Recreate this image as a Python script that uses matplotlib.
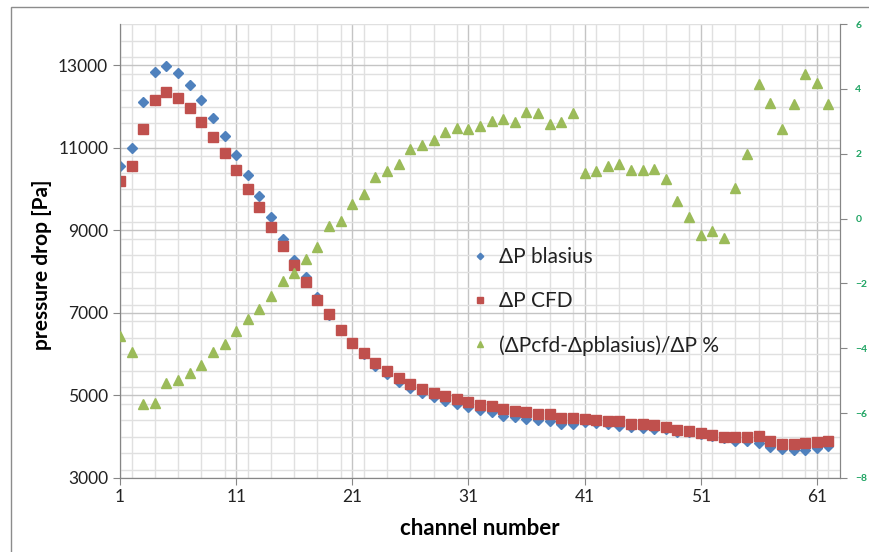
import numpy as np
import matplotlib
matplotlib.use('Agg')
import matplotlib.pyplot as plt
from matplotlib.patches import Rectangle
from matplotlib.ticker import MultipleLocator

plt.rcParams['font.family'] = ['Lato', 'DejaVu Sans']

channel = list(range(1, 63))

# pressure drop, Blasius correlation [Pa]
dp_blasius = [10555, 10985, 12109, 12846, 12975, 12813, 12514, 12157, 11730, 11284,
              10822, 10330, 9827, 9327, 8800, 8291, 7861, 7376, 6960, 6580,
              6260, 6010, 5718, 5524, 5337, 5177, 5070, 4958, 4869, 4796,
              4731, 4650, 4602, 4512, 4488, 4424, 4408, 4383, 4310, 4305,
              4350, 4340, 4300, 4270, 4245, 4214, 4197, 4185, 4124, 4115,
              4070, 4020, 3975, 3905, 3898, 3842, 3745, 3704, 3680, 3680,
              3720, 3777]

# pressure drop, CFD [Pa]
dp_cfd = [10191, 10555, 11453, 12157, 12352, 12215, 11956, 11624, 11269, 10864,
          10451, 10007, 9565, 9085, 8623, 8162, 7750, 7303, 6973, 6592,
          6275, 6026, 5784, 5597, 5434, 5281, 5167, 5056, 4983, 4917,
          4845, 4775, 4747, 4666, 4626, 4609, 4553, 4545, 4449, 4460,
          4425, 4408, 4383, 4376, 4318, 4303, 4278, 4245, 4158, 4141,
          4084, 4036, 3988, 3988, 3995, 4012, 3891, 3818, 3825, 3850,
          3874, 3905]

# relative difference [%]
diff_pct = [-3.61, -4.12, -5.72, -5.70, -5.07, -4.98, -4.77, -4.53, -4.12, -3.87,
            -3.47, -3.11, -2.78, -2.40, -1.92, -1.67, -1.26, -0.87, -0.24, -0.07,
            0.45, 0.77, 1.28, 1.47, 1.68, 2.14, 2.27, 2.42, 2.66, 2.80,
            2.75, 2.86, 3.02, 3.06, 2.97, 3.30, 3.26, 2.91, 2.99, 3.26,
            1.39, 1.46, 1.63, 1.67, 1.51, 1.50, 1.52, 1.22, 0.53, 0.05,
            -0.52, -0.38, -0.59, 0.95, 1.98, 4.15, 3.55, 2.75, 3.52, 4.46,
            4.17, 3.52]

labels = ['\u0394P blasius', '\u0394P CFD', '(\u0394Pcfd-\u0394pblasius)/\u0394P %']

blue = '#4F81BD'
red = '#C0504D'
green = '#9BBB59'
axis_grey = '#868686'

fig = plt.figure(figsize=(8.69, 5.52), dpi=100)
ax1 = fig.add_axes([120/869, 1-478/552, 720/869, 454/552])
ax2 = ax1.twinx()

# grid
ax1.set_xlim(1, 63)
ax1.set_ylim(3000, 14000)
ax1.xaxis.set_major_locator(MultipleLocator(10))
ax1.xaxis.set_minor_locator(MultipleLocator(2))
ax1.yaxis.set_major_locator(MultipleLocator(2000))
ax1.yaxis.set_minor_locator(MultipleLocator(400))
ax1.set_xticks(list(range(1, 62, 10)))
ax1.set_yticks(list(range(3000, 14000, 2000)))
ax1.grid(which='major', color='#c4c4c4', lw=1.0)
ax1.grid(which='minor', color='#e0e0e0', lw=1.0)
ax1.set_axisbelow(True)

h1, = ax1.plot(channel, dp_blasius, ls='none', marker='D', ms=5.5, color=blue, mec=blue, label=labels[0], zorder=3)
h2, = ax1.plot(channel, dp_cfd, ls='none', marker='s', ms=6.5, color=red, mec=red, label=labels[1], zorder=3)
h3, = ax2.plot(channel, diff_pct, ls='none', marker='^', ms=7, color=green, mec=green, label=labels[2], zorder=3)

ax2.set_ylim(-8, 6)
ax2.set_yticks(list(range(-8, 7, 2)))

for sp in ['top']:
    ax1.spines[sp].set_visible(False)
    ax2.spines[sp].set_visible(False)
for sp in ['left', 'bottom', 'right']:
    ax1.spines[sp].set_color(axis_grey)
    ax2.spines[sp].set_color(axis_grey)

ax1.tick_params(axis='both', which='major', length=5, color=axis_grey, labelsize=12.5, labelcolor='#222222')
ax1.tick_params(axis='both', which='minor', length=0)
ax1.tick_params(axis='x', pad=3)
ax2.tick_params(axis='y', length=5, color=axis_grey, labelsize=7.5, labelcolor='#1FA463', pad=6)
for t in ax2.get_yticklabels():
    t.set_fontweight('bold')

ax1.set_ylabel('pressure drop [Pa]', fontsize=15, fontweight='bold')
ax1.yaxis.set_label_coords(-0.094, 0.47)
ax1.set_xlabel('channel number', fontsize=16, fontweight='bold', labelpad=9)

leg = ax2.legend(handles=[h1, h2, h3], loc='upper left', bbox_to_anchor=(0.465, 0.55),
                 frameon=False, fontsize=15, markerscale=0.6, handlelength=0.6,
                 handletextpad=0.6, labelspacing=1.15)
for t in leg.get_texts():
    t.set_color('#222222')

# outer chart border
fig.add_artist(Rectangle((11/869, -0.05), 1.0, 1-7/552+0.05, transform=fig.transFigure,
                         fill=False, ec='#8c8c8c', lw=1.0))

fig.savefig('out.png', dpi=100)
